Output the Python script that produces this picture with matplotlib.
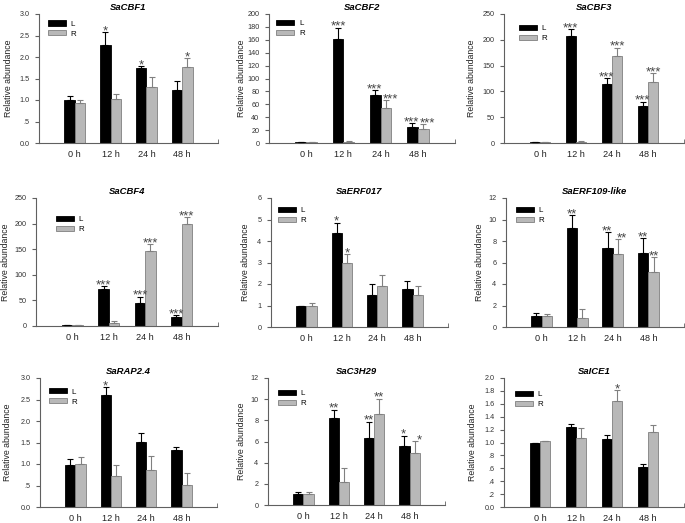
import matplotlib
matplotlib.use("Agg")
import matplotlib.pyplot as plt
from matplotlib.ticker import FuncFormatter
import numpy as np

plt.rcParams['font.family'] = ['Liberation Sans', 'DejaVu Sans']

times = ["0 h", "12 h", "24 h", "48 h"]

titles = ["SaCBF1", "SaCBF2", "SaCBF3", "SaCBF4", "SaERF017", "SaERF109-like",
          "SaRAP2.4", "SaC3H29", "SaICE1"]

L_vals = [
    [1.00, 2.29, 1.74, 1.24],
    [1.0, 161, 74, 25],
    [1.0, 207, 115, 72],
    [1.0, 72, 44, 17.5],
    [1.00, 4.35, 1.50, 1.76],
    [1.03, 9.19, 7.32, 6.92],
    [0.97, 2.61, 1.52, 1.33],
    [1.00, 8.24, 6.29, 5.57],
    [1.00, 1.24, 1.05, 0.615],
]
L_err = [
    [0.10, 0.28, 0.04, 0.21],
    [0.5, 18, 8, 6],
    [0.5, 14, 11, 8],
    [0.5, 6, 13, 3.5],
    [0.0, 0.51, 0.50, 0.40],
    [0.31, 1.21, 1.48, 1.34],
    [0.14, 0.17, 0.19, 0.07],
    [0.26, 0.76, 1.57, 0.97],
    [0.0, 0.04, 0.06, 0.055],
]
R_vals = [
    [0.94, 1.02, 1.31, 1.76],
    [1.0, 2.0, 55, 22],
    [1.0, 2.6, 169, 118],
    [1.0, 6.5, 147, 200],
    [1.00, 2.96, 1.91, 1.50],
    [1.06, 0.87, 6.82, 5.11],
    [1.01, 0.72, 0.86, 0.52],
    [1.00, 2.17, 8.62, 4.94],
    [1.02, 1.07, 1.64, 1.16],
]
R_err = [
    [0.06, 0.12, 0.22, 0.21],
    [0.3, 1.0, 11, 7],
    [0.3, 0.5, 16, 17],
    [0.3, 3.5, 13, 12],
    [0.11, 0.42, 0.51, 0.43],
    [0.19, 0.84, 1.34, 1.37],
    [0.16, 0.25, 0.32, 0.28],
    [0.20, 1.29, 1.44, 1.10],
    [0.01, 0.15, 0.17, 0.11],
]
L_sig = [
    ["", "*", "*", ""],
    ["", "***", "***", "***"],
    ["", "***", "***", "***"],
    ["", "***", "***", "***"],
    ["", "*", "", ""],
    ["", "**", "**", "**"],
    ["", "*", "", ""],
    ["", "**", "**", "*"],
    ["", "", "", ""],
]
R_sig = [
    ["", "", "", "*"],
    ["", "", "***", "***"],
    ["", "", "***", "***"],
    ["", "", "***", "***"],
    ["", "*", "", ""],
    ["", "", "**", "**"],
    ["", "", "", ""],
    ["", "", "**", "*"],
    ["", "", "*", ""],
]
y_max = [3.0, 200, 250, 250, 6, 12, 3.0, 12, 2.0]
y_step = [0.5, 20, 50, 50, 1, 2, 0.5, 2, 0.2]

# layout (pixels): left, right, top, bottom
boxes = [
    (39, 218, 14, 143), (269, 455, 14, 143), (504, 684, 14, 143),
    (36, 218, 198, 326), (271, 448, 198, 327), (506, 684, 198, 327),
    (40, 217, 378, 507), (268, 445, 378, 505), (504, 684, 378, 507),
]
ylabel_dist = [30, 28, 32, 31, 26, 27, 32, 27, 31]
leg_anchor = [(0.05, 0.95), (0.04, 0.955), (0.083, 0.915),
              (0.11, 0.86), (0.04, 0.93), (0.056, 0.93),
              (0.05, 0.92), (0.056, 0.905), (0.061, 0.90)]

W, H = 685, 523
fig = plt.figure(figsize=(W / 100, H / 100), dpi=100)

L_color = "black"
R_color = "#b8b8b8"
R_edge = "#808080"
spine_c = "#606060"
bw = 0.29


def fmt_factory(dec):
    def f(v, pos):
        s = f"{v:.{dec}f}"
        if s.startswith("0.") and abs(v) > 1e-9:
            s = s[1:]
        return s
    return f


for i in range(9):
    l, r, t, b = boxes[i]
    ax = fig.add_axes([l / W, 1 - b / H, (r - l) / W, (b - t) / H])
    x = np.arange(len(times))
    lv, le, rv, re_ = L_vals[i], L_err[i], R_vals[i], R_err[i]
    ax.bar(x - bw / 2, lv, bw, color=L_color, edgecolor="black", linewidth=0.6, label="L", zorder=2)
    ax.bar(x + bw / 2, rv, bw, color=R_color, edgecolor=R_edge, linewidth=0.6, label="R", zorder=2)
    ax.errorbar(x - bw / 2, lv, yerr=[np.zeros(4), le], fmt="none", ecolor="black",
                elinewidth=0.8, capsize=2.2, capthick=0.8, zorder=3)
    ax.errorbar(x + bw / 2, rv, yerr=[np.zeros(4), re_], fmt="none", ecolor=R_edge,
                elinewidth=0.8, capsize=2.2, capthick=0.8, zorder=3)
    for j in range(4):
        ltop = lv[j] + le[j]
        rtop = rv[j] + re_[j]
        close = bool(L_sig[i][j]) and bool(R_sig[i][j]) and abs(ltop - rtop) < 0.1 * y_max[i]
        dl, dr = (-0.8, 3.0) if close else (0, 0)
        if L_sig[i][j]:
            ax.annotate(L_sig[i][j], (x[j] - bw / 2, ltop), xytext=(dl, -1.5),
                        textcoords="offset points", ha="center", va="baseline",
                        fontsize=9.5, color="#444444")
        if R_sig[i][j]:
            ax.annotate(R_sig[i][j], (x[j] + bw / 2, rtop), xytext=(dr, -1.5),
                        textcoords="offset points", ha="center", va="baseline",
                        fontsize=9.5, color="#444444")
    ax.set_xlim(-1, 4)
    ax.set_ylim(0, y_max[i])
    ax.set_yticks(np.arange(0, y_max[i] + y_step[i] / 2, y_step[i]))
    if y_step[i] < 1:
        ax.yaxis.set_major_formatter(FuncFormatter(fmt_factory(1)))
    else:
        ax.yaxis.set_major_formatter(FuncFormatter(lambda v, p: f"{int(round(v))}"))
    ax.set_xticks(x)
    ax.set_xticklabels(times)
    ax.set_xticks([-1, 4], minor=True)
    ax.tick_params(axis="x", which="major", length=0, pad=5, labelsize=6.6, labelcolor="#222222")
    ax.tick_params(axis="x", which="minor", length=3, direction="in", color=spine_c)
    ax.tick_params(axis="y", length=3, direction="out", color=spine_c, labelsize=5.2,
                   pad=4, labelcolor="#333333")
    for s in ["top", "right"]:
        ax.spines[s].set_visible(False)
    for s in ["left", "bottom"]:
        ax.spines[s].set_color(spine_c)
        ax.spines[s].set_linewidth(0.8)
    ax.set_ylabel("Relative abundance", fontsize=6.3, color="#222222", va="center")
    ax.yaxis.set_label_coords(-ylabel_dist[i] / (r - l), 0.5)
    ax.set_title(titles[i], fontsize=6.8, fontweight="bold", fontstyle="italic", pad=3)
    ax.legend(loc="upper left", bbox_to_anchor=leg_anchor[i], frameon=False,
              fontsize=5.8, handlelength=2.2, handleheight=0.6, labelspacing=0.3,
              borderpad=0, borderaxespad=0, handletextpad=0.6)

fig.savefig("out.png", dpi=100)
